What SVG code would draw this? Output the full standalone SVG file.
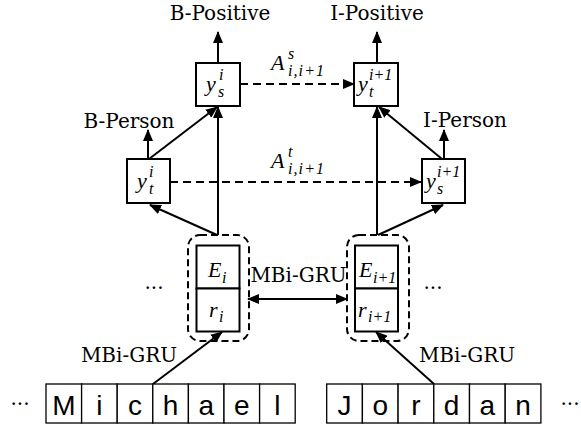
<svg xmlns="http://www.w3.org/2000/svg" width="581" height="432" viewBox="0 0 581 432">
<defs>
<marker id="ah" markerUnits="userSpaceOnUse" markerWidth="12" markerHeight="10" refX="11" refY="5" orient="auto-start-reverse"><path d="M0,0 L12,5 L0,10 z" fill="#000"/></marker>
</defs>
<style>
.lbl{font-family:"DejaVu Serif","Liberation Serif",serif;font-size:20px;fill:#000}
.mid{text-anchor:middle}
.m{font-family:"Liberation Serif","DejaVu Serif",serif;font-style:italic;fill:#000;font-size:22px}
.s{font-size:16px}
.ch{font-family:"Liberation Sans",Arial,sans-serif;font-size:28px;text-anchor:middle;fill:#000}
.box{fill:#fff;stroke:#000;stroke-width:2}
.cbox{fill:#fff;stroke:#000;stroke-width:1.3}
.grp{fill:none;stroke:#000;stroke-width:2;stroke-dasharray:7 4}
.arr{stroke:#000;stroke-width:2;fill:none;marker-end:url(#ah)}
.dash{stroke-dasharray:8 5}
</style>
<rect width="581" height="432" fill="#fff"/>

<g id="connectors">
<line class="arr" x1="218" y1="63" x2="218" y2="32"/>
<line class="arr" x1="377" y1="63" x2="377" y2="32"/>
<line class="arr" x1="148" y1="159" x2="148" y2="130"/>
<line class="arr" x1="444" y1="159" x2="444" y2="130"/>
<line class="arr" x1="149" y1="159" x2="217" y2="107"/>
<line class="arr" x1="442" y1="159" x2="379" y2="107"/>
<line class="arr" x1="218" y1="235" x2="218" y2="107"/>
<line class="arr" x1="377" y1="235" x2="377" y2="107"/>
<line class="arr" x1="217" y1="235" x2="150" y2="205"/>
<line class="arr" x1="378" y1="235" x2="443" y2="205"/>
<line class="arr dash" x1="240" y1="84" x2="354" y2="84"/>
<line class="arr dash" x1="170" y1="182" x2="421" y2="182"/>
<line class="arr" x1="248" y1="299" x2="347" y2="299" marker-start="url(#ah)"/>
<line class="arr" x1="153" y1="384" x2="222" y2="332"/>
<line class="arr" x1="434" y1="384" x2="376" y2="332"/>
</g>

<g id="label-b-positive"><text class="lbl mid" x="220" y="20">B-Positive</text></g>
<g id="label-i-positive"><text class="lbl mid" x="377" y="20">I-Positive</text></g>
<g id="label-b-person"><text class="lbl mid" x="129" y="128">B-Person</text></g>
<g id="label-i-person"><text class="lbl mid" x="465" y="127">I-Person</text></g>
<g id="label-mbigru-left"><text class="lbl mid" x="129" y="362">MBi-GRU</text></g>
<g id="label-mbigru-right"><text class="lbl mid" x="467" y="362">MBi-GRU</text></g>
<g id="label-mbigru-mid"><text class="lbl mid" x="298.5" y="282">MBi-GRU</text></g>
<g id="label-As"><text class="m" x="271" y="70">A</text><text class="m s" x="288" y="59">s</text><text class="m s" x="288" y="76" textLength="36">i,i+1</text></g>
<g id="label-At"><text class="m" x="271" y="168">A</text><text class="m s" x="288" y="157">t</text><text class="m s" x="288" y="174" textLength="36">i,i+1</text></g>

<g id="ys-i"><rect class="box" x="196" y="63" width="44" height="43"/><text class="m" x="206" y="91">y</text><text class="m s" x="219" y="80">i</text><text class="m s" x="218" y="97">s</text></g>
<g id="yt-i"><rect class="box" x="127" y="159" width="43" height="44"/><text class="m" x="137" y="188">y</text><text class="m s" x="149" y="177">i</text><text class="m s" x="149" y="194">t</text></g>
<g id="yt-i1"><rect class="box" x="354" y="63" width="44" height="43"/><text class="m" x="358" y="91">y</text><text class="m s" x="369" y="80">i+1</text><text class="m s" x="369" y="97">t</text></g>
<g id="ys-i1"><rect class="box" x="422" y="159" width="43" height="44"/><text class="m" x="426" y="188">y</text><text class="m s" x="437" y="177">i+1</text><text class="m s" x="437" y="194">s</text></g>

<g id="emb-i"><rect class="grp" x="188" y="235" width="61" height="106" rx="12"/><rect class="box" x="196.5" y="245.5" width="43" height="43"/><rect class="box" x="196.5" y="288.5" width="43" height="43"/><text class="m" x="208" y="277">E</text><text class="m s" x="222" y="283">i</text><text class="m" x="209" y="317">r</text><text class="m s" x="219" y="322">i</text></g>
<g id="emb-i1"><rect class="grp" x="347" y="235" width="62" height="106" rx="12"/><rect class="box" x="355" y="245.5" width="43" height="43"/><rect class="box" x="355" y="288.5" width="43" height="43"/><text class="m" x="359" y="277">E</text><text class="m s" x="373" y="283">i+1</text><text class="m" x="358" y="317">r</text><text class="m s" x="368" y="322">i+1</text></g>

<g id="dots"><text class="lbl mid" x="154" y="289">...</text><text class="lbl mid" x="433" y="289">...</text><text class="lbl mid" x="20" y="405">...</text><text class="lbl mid" x="570" y="405">...</text></g>

<g id="word-michael">
<rect class="cbox" x="46" y="384" width="35.6" height="39"/><rect class="cbox" x="81.6" y="384" width="35.6" height="39"/><rect class="cbox" x="117.2" y="384" width="35.6" height="39"/><rect class="cbox" x="152.8" y="384" width="35.6" height="39"/><rect class="cbox" x="188.4" y="384" width="35.6" height="39"/><rect class="cbox" x="224" y="384" width="35.6" height="39"/><rect class="cbox" x="259.6" y="384" width="35.6" height="39"/>
<text class="ch" x="63.8" y="415">M</text><text class="ch" x="99.4" y="415">i</text><text class="ch" x="135" y="415">c</text><text class="ch" x="170.6" y="415">h</text><text class="ch" x="206.2" y="415">a</text><text class="ch" x="241.8" y="415">e</text><text class="ch" x="277.4" y="415">l</text>
</g>
<g id="word-jordan">
<rect class="cbox" x="326.7" y="384" width="35.7" height="39"/><rect class="cbox" x="362.4" y="384" width="35.7" height="39"/><rect class="cbox" x="398.1" y="384" width="35.7" height="39"/><rect class="cbox" x="433.8" y="384" width="35.7" height="39"/><rect class="cbox" x="469.5" y="384" width="35.7" height="39"/><rect class="cbox" x="505.2" y="384" width="35.7" height="39"/>
<text class="ch" x="344.5" y="415">J</text><text class="ch" x="380.2" y="415">o</text><text class="ch" x="415.9" y="415">r</text><text class="ch" x="451.6" y="415">d</text><text class="ch" x="487.3" y="415">a</text><text class="ch" x="523" y="415">n</text>
</g>
</svg>
